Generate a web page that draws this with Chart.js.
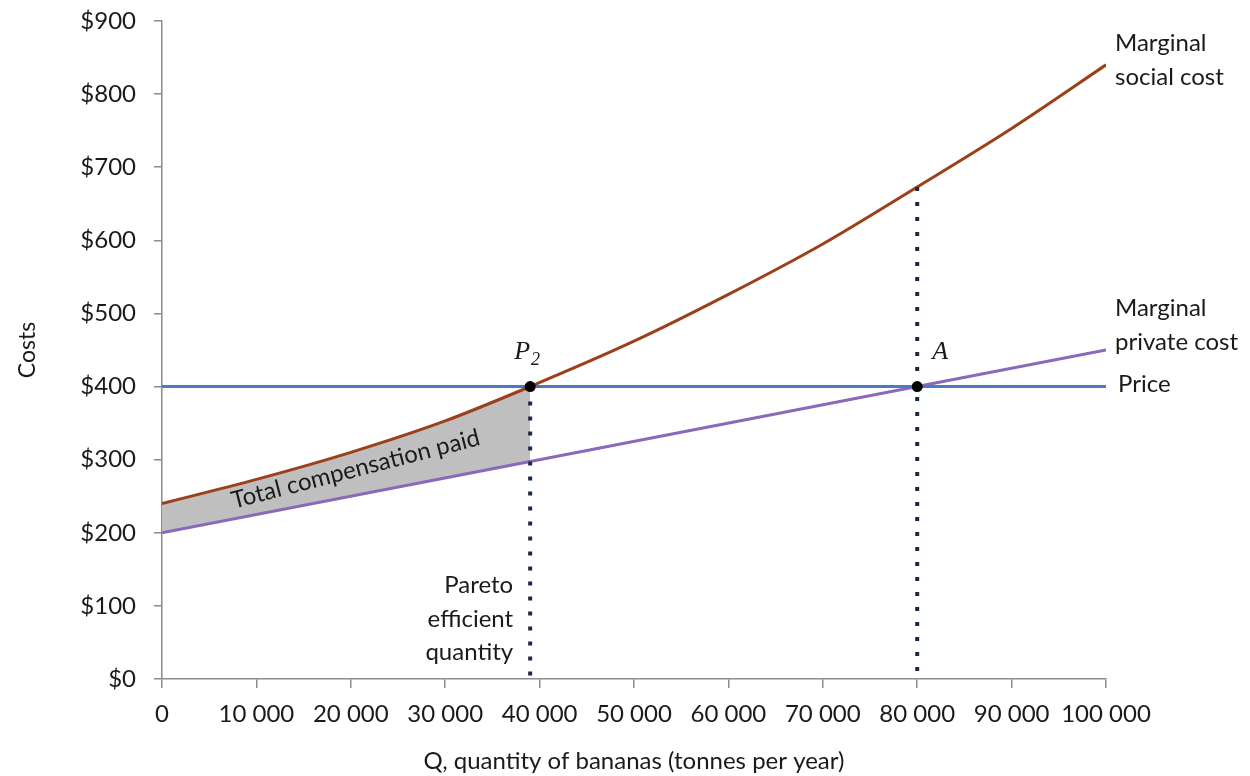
<!DOCTYPE html>
<html>
<head>
<meta charset="utf-8">
<script src="https://cdn.jsdelivr.net/npm/chart.js@4.4.1/dist/chart.umd.min.js"></script>
<style>
  html, body { margin: 0; padding: 0; background: #ffffff; }
  #wrap { width: 1250px; height: 776px; }
</style>
</head>
<body>
<div id="wrap"><canvas id="chart" width="1250" height="776"></canvas></div>
<script>
// Data
const qMin = 0;
const qMax = 100000;
const costMax = 900;

// marginal social cost (curved)
const mscQ = [0, 10000, 20000, 30000, 39000, 50000, 60000, 70000, 80000, 90000, 100000];
const mscCost = [240, 273, 310, 353, 400, 462, 526, 595, 673, 753, 840];

// marginal private cost (straight)
const mpcQ = [0, 39000, 80000, 100000];
const mpcCost = [200, 297.5, 400, 450];

// price
const priceQ = [0, 100000];
const priceCost = [400, 400];

// key points: P2 (Pareto efficient) and A
const paretoQ = 39000;
const aQ = 80000;
const pointQ = [39000, 80000];
const pointCost = [400, 400];
const aTopCost = 673;

const FONT = 'Lato, "Open Sans", sans-serif';
const TEXT = '#1a1a1a';
const AXIS = '#8c8c8c';

const toPts = (xs, ys) => xs.map((q, i) => ({ x: q, y: ys[i] }));

const shadeTop = toPts(mscQ, mscCost).filter(p => p.x <= paretoQ);
const shadeBottom = toPts(mpcQ, mpcCost).filter(p => p.x <= paretoQ);

// 🏷️ text labels drawn on top
const labelPlugin = {
  id: 'labels',
  afterDatasetsDraw(chart) {
    const { ctx, scales: { x, y } } = chart;
    ctx.save();
    ctx.fillStyle = TEXT;
    ctx.font = '24px ' + FONT;
    ctx.textBaseline = 'middle';

    // curve end labels
    const endX = x.getPixelForValue(qMax) + 9;
    const mscEnd = y.getPixelForValue(mscCost[mscCost.length - 1]);
    ctx.textAlign = 'left';
    ctx.fillText('Marginal', endX, mscEnd - 22);
    ctx.fillText('social cost', endX, mscEnd + 12);

    const mpcEnd = y.getPixelForValue(mpcCost[mpcCost.length - 1]);
    ctx.fillText('Marginal', endX, mpcEnd - 42);
    ctx.fillText('private cost', endX, mpcEnd - 8);

    const priceY = y.getPixelForValue(priceCost[1]);
    ctx.fillText('Price', endX + 3, priceY - 2);

    // Pareto label
    const px = x.getPixelForValue(paretoQ);
    const base = y.getPixelForValue(0);
    ctx.textAlign = 'right';
    ctx.fillText('Pareto', px - 17, base - 94);
    ctx.fillText('efficient', px - 17, base - 60);
    ctx.fillText('quantity', px - 17, base - 27);

    // P2 and A
    const p2y = y.getPixelForValue(pointCost[0]);
    ctx.textAlign = 'left';
    ctx.font = 'italic 26px "Liberation Serif", serif';
    ctx.fillText('P', px - 16, p2y - 34);
    const pw = ctx.measureText('P').width;
    ctx.font = 'italic 18px "Liberation Serif", serif';
    ctx.fillText('2', px - 16 + pw + 1, p2y - 26);

    const ax = x.getPixelForValue(aQ);
    ctx.font = 'italic 26px "Liberation Serif", serif';
    ctx.fillText('A', ax + 15, p2y - 34);

    // shaded area label
    ctx.font = '24px ' + FONT;
    ctx.translate(x.getPixelForValue(20500), y.getPixelForValue(287));
    ctx.rotate(-14.5 * Math.PI / 180);
    ctx.textAlign = 'center';
    ctx.fillText('Total compensation paid', 0, 0);
    ctx.restore();
  }
};

const ctx = document.getElementById('chart');

new Chart(ctx, {
  type: 'line',
  data: {
    datasets: [
      {
        label: 'points',
        data: toPts(pointQ, pointCost),
        showLine: false,
        pointRadius: 5.5,
        pointBackgroundColor: '#000000',
        pointBorderColor: '#000000',
        pointBorderWidth: 0
      },
      {
        label: 'pareto',
        data: [{ x: paretoQ, y: pointCost[0] }, { x: paretoQ, y: 0 }],
        borderColor: '#1b2a44',
        borderWidth: 4,
        borderDash: [4, 11],
        borderCapStyle: 'butt',
        pointRadius: 0
      },
      {
        label: 'A drop',
        data: [{ x: aQ, y: aTopCost }, { x: aQ, y: 0 }],
        borderColor: '#1b2a44',
        borderWidth: 4,
        borderDash: [4, 11],
        borderCapStyle: 'butt',
        pointRadius: 0
      },
      {
        label: 'Marginal social cost',
        data: toPts(mscQ, mscCost),
        borderColor: '#9c3f1b',
        borderWidth: 3,
        cubicInterpolationMode: 'monotone',
        pointRadius: 0
      },
      {
        label: 'Price',
        data: toPts(priceQ, priceCost),
        borderColor: '#4a7bc0',
        borderWidth: 3,
        pointRadius: 0
      },
      {
        label: 'Marginal private cost',
        data: toPts(mpcQ, mpcCost),
        borderColor: '#8b68bb',
        borderWidth: 3,
        pointRadius: 0
      },
      {
        label: 'shade top',
        data: shadeTop,
        borderWidth: 0,
        borderColor: 'rgba(0,0,0,0)',
        backgroundColor: '#bfbfbf',
        cubicInterpolationMode: 'monotone',
        fill: '+1',
        pointRadius: 0
      },
      {
        label: 'shade bottom',
        data: shadeBottom,
        borderWidth: 0,
        borderColor: 'rgba(0,0,0,0)',
        pointRadius: 0
      }
    ]
  },
  options: {
    responsive: false,
    animation: false,
    layout: { padding: { top: 21, right: 144, left: 0, bottom: 0 } },
    plugins: {
      legend: { display: false },
      tooltip: { enabled: false }
    },
    scales: {
      x: {
        type: 'linear',
        min: qMin,
        max: qMax,
        afterFit: (scale) => {
          scale.height = 97;
          scale.paddingLeft = 0;
          scale.paddingRight = 0;
        },
        ticks: {
          stepSize: 10000,
          color: TEXT,
          padding: 12,
          maxRotation: 0,
          autoSkip: false,
          font: { family: FONT, size: 24 },
          callback: (v) => v.toLocaleString('en-US').replace(/,/g, ' ')
        },
        grid: { drawOnChartArea: false, tickLength: 9, color: AXIS, lineWidth: 1.5 },
        border: { color: AXIS, width: 1.5 },
        title: {
          display: true,
          text: 'Q, quantity of bananas (tonnes per year)',
          color: TEXT,
          font: { family: FONT, size: 24 },
          padding: { top: 0, bottom: 0 }
        }
      },
      y: {
        min: 0,
        max: costMax,
        afterFit: (scale) => {
          scale.width = 162;
          scale.paddingTop = 0;
          scale.paddingBottom = 0;
        },
        ticks: {
          stepSize: 100,
          color: TEXT,
          padding: 18,
          font: { family: FONT, size: 24 },
          callback: (v) => '$' + v
        },
        grid: { drawOnChartArea: false, tickLength: 8, color: AXIS, lineWidth: 1.5 },
        border: { color: AXIS, width: 1.5 },
        title: {
          display: true,
          text: 'Costs',
          color: TEXT,
          font: { family: FONT, size: 23 },
          padding: { top: 14, bottom: 0 }
        }
      }
    }
  },
  plugins: [labelPlugin]
});
</script>
</body>
</html>
